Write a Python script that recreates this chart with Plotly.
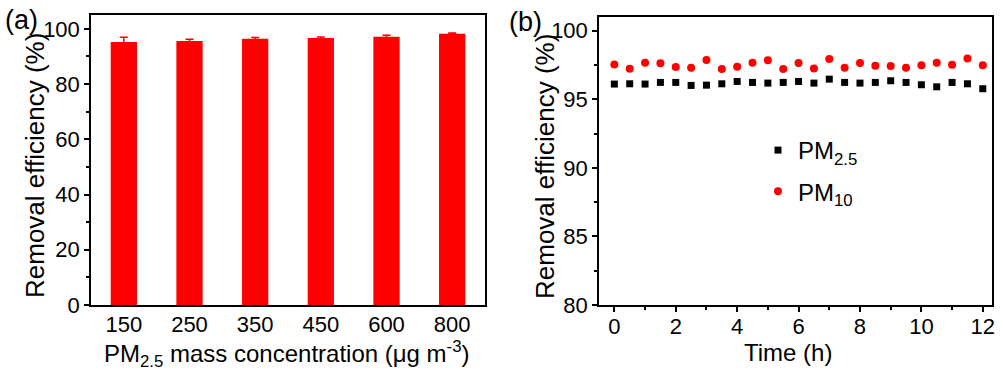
import plotly.graph_objects as go

# Panel (a) data
conc_labels = ["150", "250", "350", "450", "600", "800"]
eff_a = [95.2, 95.6, 96.4, 96.7, 97.1, 98.2]
err_a = [1.7, 0.6, 0.45, 0.3, 0.6, 0.3]

# Panel (b) data
time_h = [0, 0.5, 1, 1.5, 2, 2.5, 3, 3.5, 4, 4.5, 5, 5.5, 6, 6.5, 7, 7.5, 8, 8.5, 9, 9.5, 10, 10.5, 11, 11.5, 12]
pm25 = [96.11, 96.13, 96.11, 96.23, 96.23, 96.01, 96.03, 96.13, 96.30, 96.23, 96.18, 96.23, 96.30,
        96.18, 96.47, 96.23, 96.18, 96.23, 96.35, 96.23, 96.06, 95.91, 96.23, 96.13, 95.77]
pm10 = [97.54, 97.23, 97.66, 97.62, 97.35, 97.30, 97.86, 97.20, 97.37, 97.66, 97.84, 97.20, 97.64,
        97.25, 97.93, 97.30, 97.64, 97.45, 97.42, 97.30, 97.49, 97.66, 97.52, 97.98, 97.49]

# Text
title_xa = "PM<sub>2.5</sub> mass concentration (μg m<sup>-3</sup>)"
title_xb = "Time (h)"
title_y = "Removal efficiency (%)"

FONT = "Arial, Liberation Sans, sans-serif"
W, H = 1003, 373

fig = go.Figure()

fig.add_trace(go.Bar(
    x=conc_labels, y=eff_a, width=0.4,
    marker=dict(color="#ff0000", line=dict(width=0)),
    error_y=dict(type="data", array=err_a, color="#ff0000", thickness=1.5, width=4),
    showlegend=False, xaxis="x", yaxis="y",
))

fig.add_trace(go.Scatter(
    x=time_h, y=pm25, mode="markers", name="PM<sub>2.5</sub>", legendgroup="g1",
    marker=dict(symbol="square", size=7, color="black"),
    xaxis="x2", yaxis="y2",
))
fig.add_trace(go.Scatter(
    x=time_h, y=pm10, mode="markers", name="PM<sub>10</sub>", legendgroup="g2",
    marker=dict(symbol="circle", size=8, color="#ff0000"),
    xaxis="x2", yaxis="y2",
))

axis_common = dict(
    showline=True, linecolor="black", linewidth=1.5, mirror=True,
    ticks="outside", ticklen=5, tickwidth=1.5, tickcolor="black",
    showgrid=False, zeroline=False, automargin=False,
    tickfont=dict(family=FONT, size=22, color="black"),
)
XT = dict(family=FONT, size=24, color="black")
YT = dict(family=FONT, size=26, color="black")

def px_x(p):
    return p / W

def px_y(p):
    return 1 - p / H

def label(text, x, y, font, angle=0, xanchor="center"):
    return dict(text=text, x=px_x(x), y=px_y(y), xref="paper", yref="paper",
                xanchor=xanchor, yanchor="middle", showarrow=False,
                textangle=angle, font=font)

fig.update_layout(
    width=W, height=H,
    margin=dict(l=0, r=0, t=0, b=0),
    paper_bgcolor="white", plot_bgcolor="white",
    font=dict(family=FONT, color="black"),
    xaxis=dict(axis_common, domain=[px_x(91), px_x(485)], type="category",
               range=[-0.5, 5.5], ticks="", ticklabelstandoff=-1, anchor="y"),
    yaxis=dict(axis_common, domain=[px_y(305), px_y(15)], range=[0, 105],
               tickvals=[0, 20, 40, 60, 80, 100],
               minor=dict(ticks="outside", ticklen=3, tickwidth=1.5, tickcolor="black", dtick=10, tick0=0),
               anchor="x"),
    xaxis2=dict(axis_common, domain=[px_x(599), px_x(992)], range=[-0.5, 12.3],
                tickvals=[0, 2, 4, 6, 8, 10, 12], ticklabelstandoff=-4,
                minor=dict(ticks="outside", ticklen=3, tickwidth=1.5, tickcolor="black", dtick=1, tick0=0),
                anchor="y2"),
    yaxis2=dict(axis_common, domain=[px_y(305), px_y(17)], range=[80, 101],
                tickvals=[80, 85, 90, 95, 100],
                minor=dict(ticks="outside", ticklen=3, tickwidth=1.5, tickcolor="black", dtick=2.5, tick0=80),
                anchor="x2"),
    legend=dict(x=px_x(758), y=px_y(128), xanchor="left", yanchor="top",
                bgcolor="rgba(0,0,0,0)", font=dict(family=FONT, size=24, color="black"),
                itemwidth=30, tracegroupgap=7, traceorder="grouped"),
    annotations=[
        label("(a)", 3, 20, dict(family=FONT, size=27, color="black"), xanchor="left"),
        label("(b)", 507, 22, dict(family=FONT, size=27, color="black"), xanchor="left"),
        label(title_y, 35, 166, YT, angle=-90),
        label(title_y, 545, 167, YT, angle=-90),
        label(title_xa, 287, 354, XT),
        label(title_xb, 788, 352, XT),
    ],
)

fig.write_html("out.html", config={"displayModeBar": False},
               post_script="document.body.style.margin='0';document.body.style.overflow='hidden';")
